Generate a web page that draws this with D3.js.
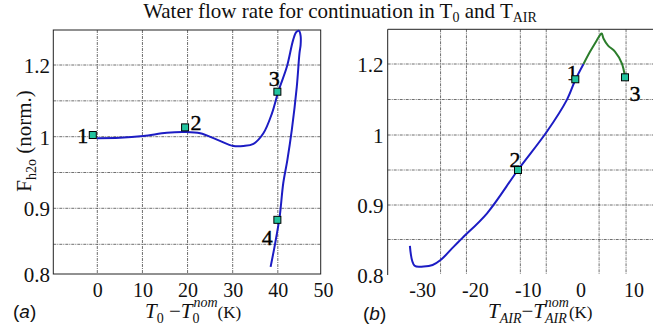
<!DOCTYPE html>
<html>
<head>
<meta charset="utf-8">
<script src="https://cdn.jsdelivr.net/npm/d3@7"></script>
<style>
body { margin: 0; background: #fff; }
svg { display: block; font-family: "Liberation Serif", "DejaVu Serif", serif; }
</style>
</head>
<body>
<div id="res"></div>
<script>
/* values */

/* panel (a): continuation in T0 (x = T0 - T0nom, y = normalised flow) */
var curveAx = [-0.1, 5, 10.2, 15.4, 19.4, 22.8, 26.5, 30.2, 32.4, 34.6, 36.8, 38.7, 40.1, 42.0,
	43.4, 44.1, 44.7, 45.05, 45.05, 44.8, 44.2, 43.1, 42.1, 41.2, 40.4, 39.4, 38.4];
var curveAy = [0.998, 0.9985, 1.002, 1.011, 1.013, 1.0095, 0.996, 0.987, 0.987, 0.990, 1.0095, 1.065, 1.126, 1.195,
	1.27, 1.292, 1.295, 1.281, 1.256, 1.233, 1.139, 1.019, 0.967, 0.935, 0.888, 0.851, 0.812];
var pointsAx = [-1.0, 19.45, 39.9, 39.9];
var pointsAy = [1.0047, 1.026, 1.1255, 0.884];
var pointsAlabel = ["1", "2", "3", "4"];

/* panel (b): continuation in TAIR */
var curveBx = [-32.3, -31.4, -29.7, -28.0, -26.5, -24.0, -22.4, -17.7, -11.85, -6.4, -2.6, -1.0, 0.55];
var curveBy = [0.841, 0.813, 0.812, 0.814, 0.821, 0.840, 0.852, 0.888, 0.95, 1.009, 1.099, 1.155, 1.2];
var branchBx = [0.55, 1.8, 2.76, 3.7, 4.0, 4.33, 5.2, 6.5, 7.8, 8.4];
var branchBy = [1.2, 1.235, 1.259, 1.282, 1.286, 1.272, 1.252, 1.235, 1.202, 1.164];
var pointsBx = [-1.0, -11.85, 8.4];
var pointsBy = [1.157, 0.95, 1.1625];
var pointsBlabel = ["1", "2", "3"];

/* ticks and grid */
var xTicksA = [0, 10, 20, 30, 40, 50];
var xTicksB = [-30, -20, -10, 0, 10];
var yTicks = [1.2, 1, 0.9, 0.8];
var xGridA = [0, 10, 20, 30, 40];
var xGridB = [-26.5, -21.6, -11.4, -6.5, 3.5, 8.6];
var yGrid = [1.2, 1.1, 1, 0.95, 0.9, 0.85];

/* size of the graphic */
var width = 653;
var height = 333;
var blue = "#1c1cc4";
var green = "#2b7d2b";
var teal = "#22c29e";
var font = "Liberation Serif, DejaVu Serif, serif";

var svg = d3.select("#res")
	.append("svg")
		.attr("width", width)
		.attr("height", height);

/* scales: the y axis of the original is not evenly spaced, so use a piecewise scale */
var xA = d3.scaleLinear().domain([-9.75, 49.5]).range([53.3, 320.7]);
var yA = d3.scaleLinear().domain([0.8, 0.85, 0.9, 1.0, 1.2]).range([274, 244.3, 208.3, 136.7, 65]);
var xB = d3.scaleLinear().domain([-36.5, 13.7]).range([387.7, 653]);
var yB = d3.scaleLinear().domain([0.8, 0.85, 0.9, 1.0, 1.2]).range([275, 239.5, 205, 135, 64]);

function yFormat(d) { return d === 1 ? "1" : d3.format(".1f")(d); }
function xFormat(d) { return String(d); } // plain hyphen like the original

function grid(x, y, xs, ys, x0, x1, y0, y1) {
	var g = svg.append("g")
		.attr("stroke", "#4a4a4a")
		.attr("stroke-width", 0.8)
		.attr("stroke-dasharray", "3,1,1,1");
	g.selectAll(".gx").data(xs).enter().append("line")
		.attr("x1", function(d) { return x(d); })
		.attr("x2", function(d) { return x(d); })
		.attr("y1", y0).attr("y2", y1);
	g.selectAll(".gy").data(ys).enter().append("line")
		.attr("x1", x0).attr("x2", x1)
		.attr("y1", function(d) { return y(d); })
		.attr("y2", function(d) { return y(d); });
}

function axes(x, y, xticks, xBase, yRight) {
	var gx = svg.append("g")
		.attr("transform", "translate(0," + xBase + ")")
		.call(d3.axisBottom(x).tickValues(xticks).tickFormat(xFormat).tickSize(0).tickPadding(0));
	gx.select(".domain").remove();
	gx.attr("font-family", font).attr("font-size", 20);
	gx.selectAll("text").attr("y", 0).attr("dy", 0).attr("fill", "#111");

	var gy = svg.append("g")
		.attr("transform", "translate(" + yRight + ",0)")
		.call(d3.axisLeft(y).tickValues(yTicks).tickFormat(yFormat).tickSize(0).tickPadding(0));
	gy.select(".domain").remove();
	gy.attr("font-family", font).attr("font-size", 21);
	gy.selectAll("text").attr("dy", "0.35em").attr("fill", "#111");
}

function curve(x, y, xs, ys, color) {
	var line = d3.line()
		.x(function(d) { return x(d[0]); })
		.y(function(d) { return y(d[1]); })
		.curve(d3.curveCatmullRom.alpha(0.5));
	svg.append("path")
		.datum(d3.zip(xs, ys))
		.attr("d", line)
		.attr("fill", "none")
		.attr("stroke", color)
		.attr("stroke-width", 2);
}

function points(x, y, xs, ys, labels, offsets) {
	var data = d3.zip(xs, ys, labels, offsets);
	svg.selectAll(null).data(data).enter().append("text")
		.attr("x", function(d) { return x(d[0]) + d[3][0]; })
		.attr("y", function(d) { return y(d[1]) + d[3][1]; })
		.attr("text-anchor", "middle")
		.attr("font-size", 22)
		.attr("fill", "#000")
		.attr("stroke", "#000")
		.attr("stroke-width", 0.4)
		.text(function(d) { return d[2]; });
	svg.selectAll(null).data(data).enter().append("rect")
		.attr("x", function(d) { return x(d[0]) - 3.5; })
		.attr("y", function(d) { return y(d[1]) - 3.5; })
		.attr("width", 7)
		.attr("height", 7)
		.attr("fill", teal)
		.attr("stroke", "#000")
		.attr("stroke-width", 1);
}

/* panel (a) */
grid(xA, yA, xGridA, yGrid, 53.3, 320.7, 30, 274);
svg.append("rect") // full frame
	.attr("x", 53.3).attr("y", 30).attr("width", 320.7 - 53.3).attr("height", 244)
	.attr("fill", "none").attr("stroke", "#222").attr("stroke-width", 1);
axes(xA, yA, xTicksA, 297, 50);
curve(xA, yA, curveAx, curveAy, blue);
points(xA, yA, pointsAx, pointsAy, pointsAlabel, [[-10, 8], [11, 3], [-3, -6], [-10, 25]]);

/* panel (b): only left and top borders are visible */
grid(xB, yB, xGridB, yGrid, 387.7, 653, 29.3, 274);
svg.append("path")
	.attr("d", "M387.7,275V29.3H653")
	.attr("fill", "none").attr("stroke", "#222").attr("stroke-width", 1);
axes(xB, yB, xTicksB, 297, 383.5);
curve(xB, yB, curveBx, curveBy, blue);
curve(xB, yB, branchBx, branchBy, green);
points(xB, yB, pointsBx, pointsBy, pointsBlabel, [[-3, 1], [-3, -3], [10, 24]]);

/* title */
var title = svg.append("text")
	.attr("x", 340).attr("y", 18)
	.attr("text-anchor", "middle")
	.attr("font-size", 21)
	.attr("fill", "#111");
title.append("tspan").text("Water flow rate for continuation in T");
title.append("tspan").attr("font-size", 14).attr("dy", 4).text("0");
title.append("tspan").attr("dy", -4).text(" and T");
title.append("tspan").attr("font-size", 14).attr("dy", 4).text("AIR");

/* y label */
var ylab = svg.append("text")
	.attr("transform", "translate(31,141) rotate(-90)")
	.attr("text-anchor", "middle")
	.attr("font-size", 21)
	.attr("fill", "#111");
ylab.append("tspan").text("F");
ylab.append("tspan").attr("font-size", 14).attr("dy", 5).text("h2o");
ylab.append("tspan").attr("dy", -5).text(" (norm.)");

/* x labels */
function xLabel(x, sub) {
	var t = svg.append("text")
		.attr("x", x).attr("y", 318)
		.attr("font-size", 21)
		.attr("fill", "#111");
	t.append("tspan").attr("font-style", "italic").text("T");
	t.append("tspan").attr("font-size", 14).attr("font-style", sub === "0" ? "normal" : "italic").attr("dy", 5).text(sub);
	t.append("tspan").attr("dy", -5).text(sub === "0" ? " \u2212" : "\u2212");
	t.append("tspan").attr("font-style", "italic").text("T");
	t.append("tspan").attr("font-size", 14).attr("font-style", sub === "0" ? "normal" : "italic").attr("dy", 5).text(sub);
	t.append("tspan").attr("font-size", 14).attr("font-style", "italic")
		.attr("dx", sub === "0" ? -6 : -22).attr("dy", -16).text("nom");
	t.append("tspan").attr("font-size", 17).attr("dy", 11).text("(K)");
}
xLabel(145, "0");
xLabel(488, "AIR");

/* panel tags */
function tag(x, y, letter) {
	var t = svg.append("text")
		.attr("x", x).attr("y", y)
		.attr("font-family", "Liberation Sans, Arial, sans-serif")
		.attr("font-size", 19)
		.attr("fill", "#111");
	t.append("tspan").text("(");
	t.append("tspan").attr("font-style", "italic").text(letter);
	t.append("tspan").text(")");
}
tag(13, 318, "a");
tag(363, 320, "b");
</script>
</body>
</html>
